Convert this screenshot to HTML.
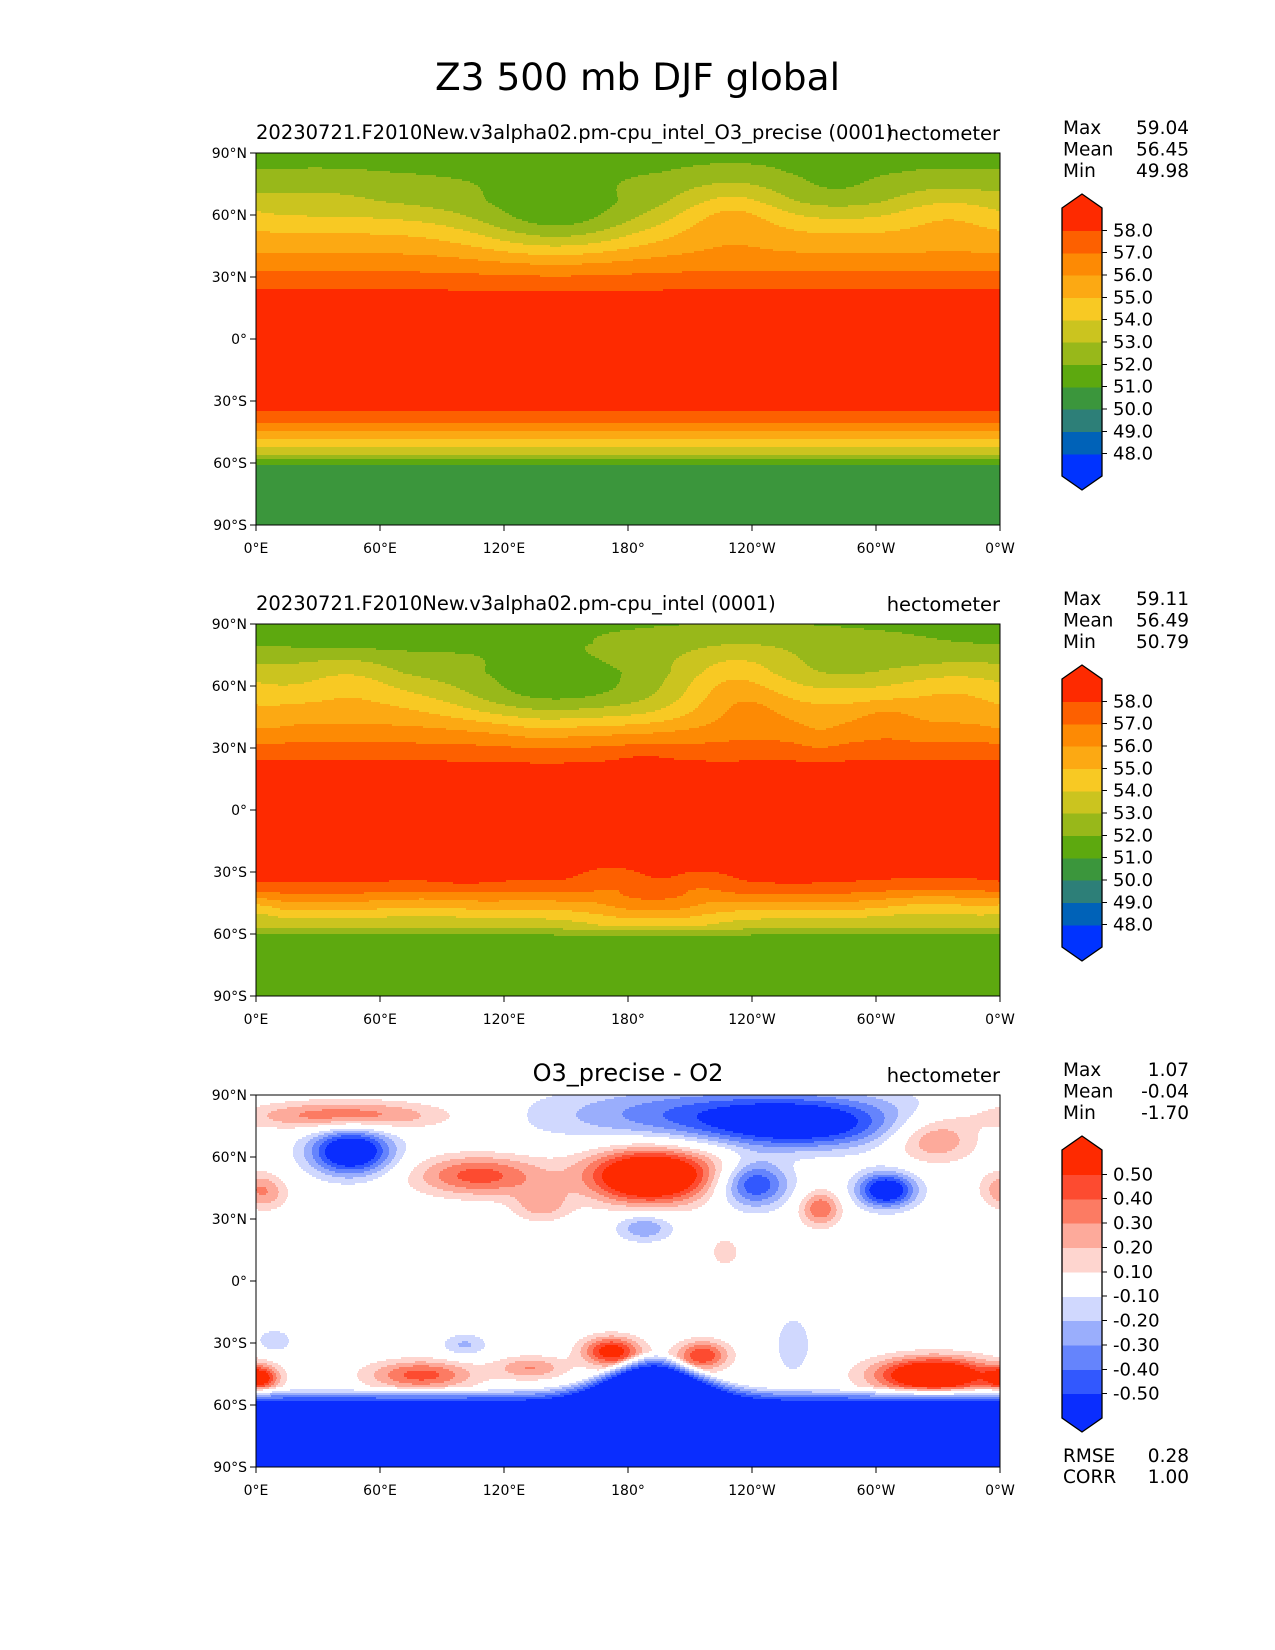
<!DOCTYPE html>
<html><head><meta charset="utf-8">
<style>
body{margin:0;background:#fff;}
#root{position:relative;width:1275px;height:1650px;background:#fff;font-family:"DejaVu Sans","Liberation Sans",sans-serif;color:#000;overflow:hidden;}
svg{position:absolute;left:0;top:0;}
.t{position:absolute;white-space:nowrap;line-height:1;}
</style></head>
<body>
<div id="root">
<div class="t" style="left:0;width:1275px;text-align:center;top:59px;font-size:37.5px;">Z3 500 mb DJF global</div>
<svg id="ovl" width="1275" height="1650" shape-rendering="crispEdges"></svg>
</div>
<script>
// ---- data ----
var zonalLats = [90,81,66.6,58.6,51,41.6,32.7,24,10,0,-20,-35,-40.6,-44.7,-48.7,-52,-56,-58.5,-61,-75,-90];
var zonalVals = [51.7,52,53,54,55,56,57,58,58.7,58.8,58.6,58,57,56,55,54,53,52,51,50.6,50.4];
// test-run anomalies: lon, lat, amplitude, lon radius, lat radius
var waveLon = [145,230,280,335,30,90];
var waveLat = [56,62,72,62,70,70];
var waveAmp = [-2.5,1.5,-0.6,1.0,0.3,-0.2];
var waveRx = [42,25,25,25,30,30];
var waveRy = [17,15,10,12,10,10];
// difference blobs
var dLon = [42,46,108,190,138,188,227,230,264,241,305,273,328,360,5,101,80,133,172,216,328,2,260,9,200];
var dLat = [80,62.6,51,50,37,26,14,80,75,47,44,35,69,46,42,-31,-45.5,-42,-34,-36,-45.5,-47,-31,-29,56];
var dAmp = [0.4,-0.75,0.45,0.75,0.25,-0.3,0.15,-0.45,-0.4,-0.55,-0.7,0.4,0.35,0.15,0.2,-0.22,0.45,0.3,0.6,0.5,0.85,0.5,-0.2,-0.2,0.2];
var dRx = [35,14,22,20,10,10,6,60,30,12,10,7,15,8,8,8,18,12,10,9,20,6,6,6,30];
var dRy = [5,8,7,9,6,5,6,10,8,8,6,6,8,6,6,4,5,4,5,5,6,4,10,4,10];
var sAntLat = -64, sAntAmp = -0.95, sAntBulgeLon = 192, sAntBulge = 17;
var levZ = [48,49,50,51,52,53,54,55,56,57,58];
var colZ = ["#0033ff","#0062b8","#2d7f78","#3b963c","#5da90f","#98b81a","#cbc41f","#f8c923","#fca913","#fd8a04","#fd6000","#fe2a00"];
var levD = [-0.5,-0.4,-0.3,-0.2,-0.1,0.1,0.2,0.3,0.4,0.5];
var colD = ["#0a2dfe","#3258fe","#6584fc","#9aaefc","#d0d8fe","#ffffff","#fed5cf","#fdaa9b","#fc7b63","#fd4b30","#fe2a00"];
var latTicks = [90,60,30,0,-30,-60,-90];
var latLabels = ["90°N","60°N","30°N","0°","30°S","60°S","90°S"];
var lonTicks = [0,60,120,180,240,300,360];
var lonLabels = ["0°E","60°E","120°E","180°","120°W","60°W","0°W"];
var statsNames = ["Max","Mean","Min"];
var stats0 = ["59.04","56.45","49.98"];
var stats1 = ["59.11","56.49","50.79"];
var stats2 = ["1.07","-0.04","-1.70"];
var zTickLabels = ["58.0","57.0","56.0","55.0","54.0","53.0","52.0","51.0","50.0","49.0","48.0"];
var dTickLabels = ["0.50","0.40","0.30","0.20","0.10","-0.10","-0.20","-0.30","-0.40","-0.50"];

function zonal(lat){
  for(var i=0;i<zonalLats.length-1;i++){
    if(lat<=zonalLats[i]&&lat>=zonalLats[i+1]){var t=(lat-zonalLats[i])/(zonalLats[i+1]-zonalLats[i]);return zonalVals[i]+t*(zonalVals[i+1]-zonalVals[i]);}
  }
  return zonalVals[zonalVals.length-1];
}
function blobs(lon,lat,L,A,M,RX,RY,f){
  var s=0;
  for(var k=0;k<L.length;k++){
    var dl=Math.abs(lon-L[k]); if(dl>180) dl=360-dl;
    var a=dl/RX[k], b=(lat-A[k])/RY[k];
    var e=(a*a+b*b)*f;
    if(e<12) s+=M[k]*Math.exp(-e);
  }
  return s;
}
function diffField(lon,lat){
  var dl=Math.abs(lon-sAntBulgeLon); if(dl>180) dl=360-dl;
  var q=dl/30;
  var b=sAntLat+sAntBulge*Math.exp(-q*q);
  var t=(b+13-lat)/13; t=Math.max(0,Math.min(1,t));
  return sAntAmp*t+blobs(lon,lat,dLon,dLat,dAmp,dRx,dRy,0.5)*(1-t);
}
function testField(lon,lat){ return zonal(lat)+blobs(lon,lat,waveLon,waveLat,waveAmp,waveRx,waveRy,1); }
function refField(lon,lat){ return testField(lon,lat)-diffField(lon,lat); }

var NS="http://www.w3.org/2000/svg";
var svgRoot=document.getElementById('ovl');
function el(tag,attrs,txt,parent){
  var e=document.createElementNS(NS,tag);
  for(var k in attrs){ if(attrs.hasOwnProperty(k)) e.setAttribute(k,attrs[k]); }
  if(txt!==undefined&&txt!==null) e.textContent=txt;
  (parent||svgRoot).appendChild(e);
  return e;
}
var X0=256,PW=744,PH=372,tops=[153,624,1095];
function xs(l){return X0+l/360*PW;}
function ys(t,l){return t+(90-l)/180*PH;}

function drawField(T,fn,lev,col,name){
  var g=el('g',{});
  
  
  var step=2;
  for(var j=0;j<PH;j+=step){
    var lat=90-(j+step/2)/PH*180;
    var start=0,prev=-1;
    for(var i=0;i<=PW;i++){
      var k=-1;
      if(i<PW){var v=fn((i+0.5)/PW*360,lat);k=0;while(k<lev.length&&v>=lev[k])k++;}
      if(k!==prev){
        if(prev>=0) el('rect',{x:X0+start,y:T+j,width:i-start,height:step,fill:col[prev]},null,g);
        start=i;prev=k;
      }
    }
  }
}
drawField(tops[0],testField,levZ,colZ,'map-test');
drawField(tops[1],refField,levZ,colZ,'map-reference');
drawField(tops[2],diffField,levD,colD,'map-difference');

function txt(x,y,s,size,anchor,name){
  var t=el('text',{x:x,y:y,'font-size':size,'text-anchor':anchor},s);
  
  
  return t;
}
for(var pi=0;pi<3;pi++){
  var T=tops[pi];
  var fr=el('rect',{x:X0,y:T,width:PW,height:PH,fill:'none',stroke:'#000','stroke-width':1.3});
  
  
  for(var i=0;i<latTicks.length;i++){
    var yy=ys(T,latTicks[i]);
    el('line',{x1:X0-6,x2:X0,y1:yy,y2:yy,stroke:'#000','stroke-width':1.2});
    txt(X0-9,yy+5,latLabels[i],14,'end','lat-tick-label');
  }
  for(var i2=0;i2<lonTicks.length;i2++){
    var xx=xs(lonTicks[i2]);
    el('line',{x1:xx,x2:xx,y1:T+PH,y2:T+PH+6,stroke:'#000','stroke-width':1.2});
    txt(xx,T+PH+28,lonLabels[i2],14,'middle','lon-tick-label');
  }
  txt(X0+PW,T-13,'hectometer',19.5,'end','units-label');
  var st=[stats0,stats1,stats2][pi];
  for(var s=0;s<3;s++){
    txt(1063,T-19+s*21.5,statsNames[s],18.5,'start','stat-name');
    txt(1189,T-19+s*21.5,st[s],18.5,'end','stat-value');
  }
  var cols=pi<2?colZ:colD, labs=pi<2?zTickLabels:dTickLabels;
  var n=cols.length, rt=T+55, rb=T+323, bh=(rb-rt)/n, cx0=1062, cx1=1102, cm=1082;
  for(var k=0;k<n;k++){
    var r=el('rect',{x:cx0,y:rt+(n-1-k)*bh,width:cx1-cx0,height:bh+0.6,fill:cols[k]});
    
    
  }
  el('polygon',{points:cx0+','+rt+' '+cm+','+(rt-14)+' '+cx1+','+rt,fill:cols[n-1]});
  el('polygon',{points:cx0+','+rb+' '+cm+','+(rb+14)+' '+cx1+','+rb,fill:cols[0]});
  el('path',{d:'M'+cx0+','+rt+' L'+cm+','+(rt-14)+' L'+cx1+','+rt+' L'+cx1+','+rb+' L'+cm+','+(rb+14)+' L'+cx0+','+rb+' Z',fill:'none',stroke:'#000','stroke-width':1.3,'shape-rendering':'auto'});
  for(var m=0;m<labs.length;m++){
    var y=rt+bh*(m+1);
    el('line',{x1:cx1,x2:cx1+5,y1:y,y2:y,stroke:'#000','stroke-width':1});
    txt(cx1+11,y+6,labs[m],18,'start','colorbar-tick-label');
  }
}
txt(256,139,'20230721.F2010New.v3alpha02.pm-cpu_intel_O3_precise (0001)',19.5,'start','panel-title-test');
txt(256,610,'20230721.F2010New.v3alpha02.pm-cpu_intel (0001)',19.5,'start','panel-title-reference');
txt(628,1081,'O3_precise - O2',24,'middle','panel-title-difference');
txt(1063,1462,'RMSE',18.5,'start','rmse-label');
txt(1189,1462,'0.28',18.5,'end','rmse-value');
txt(1063,1483,'CORR',18.5,'start','corr-label');
txt(1189,1483,'1.00',18.5,'end','corr-value');
</script>
</body></html>
